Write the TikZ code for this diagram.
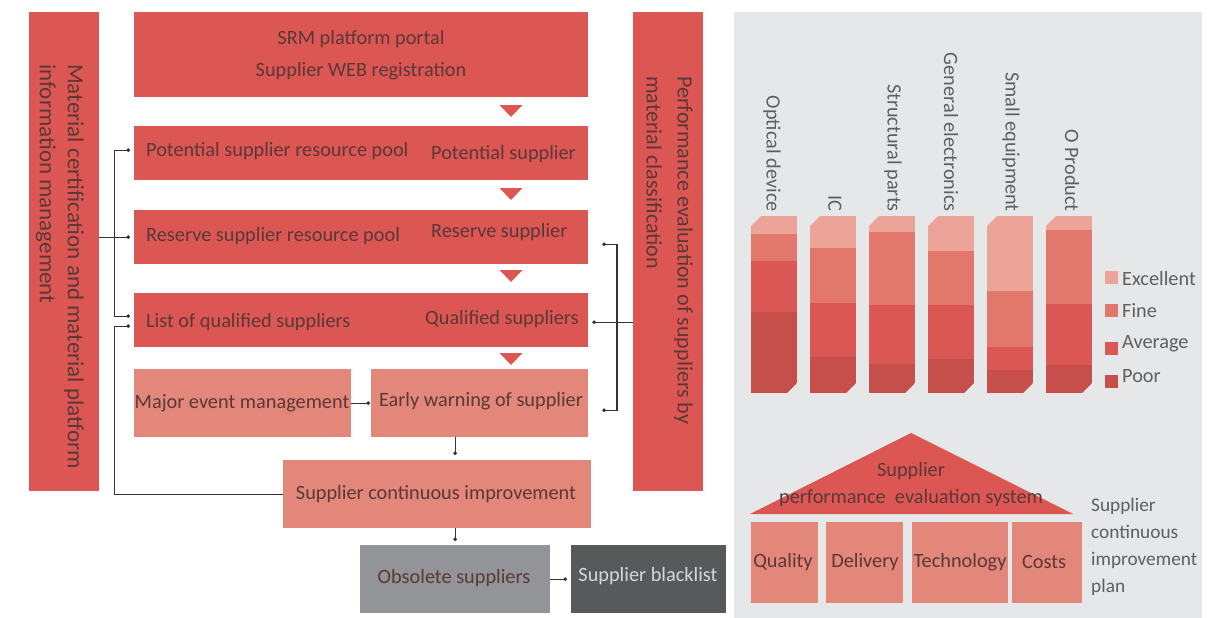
\documentclass[tikz,border=0pt]{standalone}
\usepackage{fontspec}
\setmainfont{Carlito}
\usetikzlibrary{arrows.meta,calc}
\definecolor{mred}{HTML}{DC5753}
\definecolor{lred}{HTML}{E4877B}
\definecolor{obsg}{HTML}{939497}
\definecolor{blkg}{HTML}{58595B}
\definecolor{panel}{HTML}{E6E7E9}
\definecolor{txt}{HTML}{5A3838}
\definecolor{gtxt}{HTML}{5E5F61}
\definecolor{ctexc}{HTML}{EBA497}
\definecolor{ctfin}{HTML}{E2786B}
\definecolor{ctavg}{HTML}{DB5753}
\definecolor{ctpoor}{HTML}{C64F4B}
\definecolor{lnk}{HTML}{333333}
\begin{document}
\begin{tikzpicture}[x=1pt,y=-1pt,
  every node/.style={font=\fontsize{20.3}{25}\selectfont, text=txt, inner sep=0pt},
  blk/.style={fill=#1, draw=none, anchor=north west, inner sep=0pt},
  conn/.style={draw=lnk, line width=1.1pt},
  tip/.style={-{Circle[length=3.5pt]}},
  tips/.style={{Circle[length=3.5pt]}-{Circle[length=3.5pt]}}
]
\useasboundingbox (0,0) rectangle (1224,618);

% ---------- left flow ----------
\node[blk=mred, minimum width=70, minimum height=479] (lbar) at (29,12) {};
\node[blk=mred, minimum width=70, minimum height=479] (rbar) at (633,12) {};
\node[rotate=-90, anchor=north west, align=left, font=\fontsize{23}{28}\selectfont] (lbart) at (84,64)
  {Material certification and material platform\\information management};
\node[rotate=-90, anchor=north west, align=left, font=\fontsize{22}{31}\selectfont] (rbart) at (693,76)
  {Performance evaluation of suppliers by\\material classification};

\node[blk=mred, minimum width=454, minimum height=85] (srm) at (134,12) {};
\node[align=center, font=\fontsize{20.3}{32}\selectfont] (srmt) at (361,55) {SRM platform portal\\Supplier WEB registration};

\node[blk=mred, minimum width=454, minimum height=54] (ppool) at (134,126) {};
\node[anchor=west] (ppl) at (146,151) {Potential supplier resource pool};
\node[anchor=west] (ppr) at (431,154) {Potential supplier};

\node[blk=mred, minimum width=454, minimum height=54] (rpool) at (134,210) {};
\node[anchor=west] (rpl) at (146,236) {Reserve supplier resource pool};
\node[anchor=west] (rpr) at (431,232) {Reserve supplier};

\node[blk=mred, minimum width=454, minimum height=54] (qual) at (134,293) {};
\node[anchor=west] (qll) at (146,322) {List of qualified suppliers};
\node[anchor=west] (qlr) at (425,319) {Qualified suppliers};

\node[blk=lred, minimum width=217, minimum height=68] (major) at (134,369) {};
\node (majort) at (242,403) {Major event management};
\node[blk=lred, minimum width=217, minimum height=68] (ew) at (371,369) {};
\node (ewt) at (481,401) {Early warning of supplier};
\node[blk=lred, minimum width=308, minimum height=68] (imp) at (283,460) {};
\node (impt) at (436,494) {Supplier continuous improvement};
\node[blk=obsg, minimum width=190, minimum height=68] (obs) at (360,545) {};
\node (obst) at (454,578) {Obsolete suppliers};
\node[blk=blkg, minimum width=155, minimum height=68] (bl) at (571,545) {};
\node[text={rgb,255:red,215;green,215;blue,215}] (blt) at (648,576) {Supplier blacklist};

% down triangles
\foreach \y in {105,188,270,353}{
  \fill[mred] (499.5,\y) -- (522.5,\y) -- (511,\y+12) -- cycle;
}

% connectors left
\coordinate (lj) at ($(lbar.east)+(15pt,0)$);
\coordinate (pp) at ([yshift=3pt]ppool.west);
\coordinate (q1) at ([yshift=4pt]qual.west);
\coordinate (q2) at ([yshift=-6pt]qual.west);
\draw[conn,tip,shorten >=4pt] (lbar.east |- rpool.west) -- (rpool.west);
\draw[conn,tip,shorten >=4pt] (lj |- rpool.west) |- (pp);
\draw[conn,tip,shorten >=4pt] (lj |- rpool.west) |- (q1);
\draw[conn,tip,shorten >=4pt] (imp.west) -| (lj |- q2) -- (q2);

% connectors right
\coordinate (rj) at ($(rbar.west)+(-16pt,0)$);
\coordinate (qe) at ([yshift=-2pt]qual.east);
\coordinate (re) at ([xshift=14pt,yshift=-7pt]rpool.east);
\coordinate (we) at ([xshift=14pt,yshift=-7pt]ew.east);
\draw[conn,tip,shorten >=4pt] (rbar.west |- qe) -- (qe);
\draw[conn,tips] (re) -- (rj |- re) -- (rj |- we) -- (we);

% vertical / horizontal links
\draw[conn,tip,shorten >=5pt] (obs.north |- ew.south) -- (obs.north |- imp.north);
\draw[conn,tip,shorten >=4pt] (obs.north |- imp.south) -- (obs.north);
\draw[conn,tip,shorten >=4pt] (obs.east) -- (bl.west);
\draw[conn,tip,shorten >=1pt] (major.east) -- (major.east -| ew.west);

% ---------- right panel ----------
\fill[panel] (734,12) rectangle (1202,618);

\foreach \x/\e/\f/\a in {751/234/261/312, 810/248/303/357, 869/232/305/364, 928/251/305/359, 987/291/347/370, 1046/230/304/365}{
  \begin{scope}
    \clip (\x,226) -- (\x+10,216) -- (\x+46,216) -- (\x+46,383) -- (\x+36,393) -- (\x,393) -- cycle;
    \fill[ctexc] (\x,216) rectangle (\x+46,\e);
    \fill[ctfin] (\x,\e) rectangle (\x+46,\f);
    \fill[ctavg] (\x,\f) rectangle (\x+46,\a);
    \fill[ctpoor] (\x,\a) rectangle (\x+46,393);
  \end{scope}
}
\foreach \x/\t/\n in {772/Optical device/c1, 835/IC/c2, 893/Structural parts/c3, 951/General electronics/c4, 1011/Small equipment/c5, 1072/O Product/c6}{
  \node[rotate=-90, anchor=east, text=gtxt] (\n) at (\x,212) {\t};
}

% legend
\foreach \y/\c in {271/ctexc, 304/ctfin, 342/ctavg, 375/ctpoor}{
  \fill[\c] (1105,\y) rectangle (1118,\y+13);
}
\node[anchor=west, text=gtxt] (lt1) at (1122,279) {Excellent};
\node[anchor=west, text=gtxt] (lt2) at (1122,311) {Fine};
\node[anchor=west, text=gtxt] (lt3) at (1122,344) {Average};
\node[anchor=west, text=gtxt] (lt4) at (1122,376) {Poor};

% house
\fill[mred] (750,514) -- (911,433) -- (1073,514) -- cycle;
\node (ht1) at (911,471) {Supplier};
\node (ht2) at (911,498) {performance\ \ evaluation system};
\node[blk=lred, minimum width=67, minimum height=81] (qb) at (751,522) {};
\node[blk=lred, minimum width=77, minimum height=81] (db) at (826,522) {};
\node[blk=lred, minimum width=96, minimum height=81] (tb) at (912,522) {};
\node[blk=lred, minimum width=70, minimum height=81] (cb) at (1012,522) {};
\node (qbt) at (783,562) {Quality};
\node (dbt) at (865,562) {Delivery};
\node (tbt) at (960,562) {Technology};
\node (cbt) at (1044,562) {Costs};
\node[anchor=north west, align=left, text=gtxt, font=\fontsize{19.3}{27}\selectfont] (side) at (1091,498)
  {Supplier\\continuous\\improvement\\plan};
\end{tikzpicture}
\end{document}
